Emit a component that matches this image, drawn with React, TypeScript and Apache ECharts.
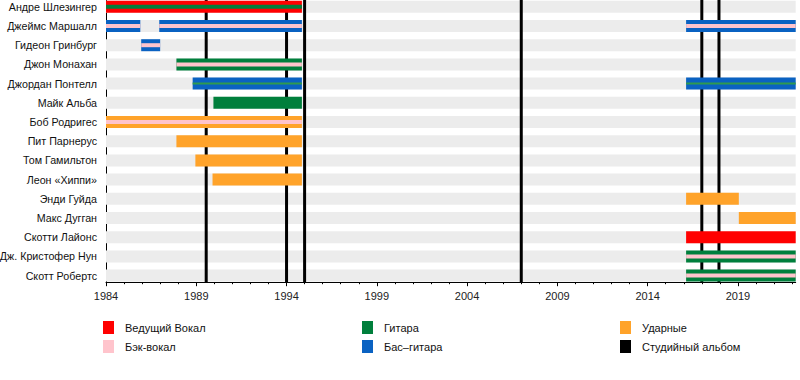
import React, { useEffect, useRef } from 'react';
import * as echarts from 'echarts';

const BASE_YEAR = 1984;
const END_YEAR = 2022.2;

const members = [
  'Андре Шлезингер',
  'Джеймс Маршалл',
  'Гидеон Гринбург',
  'Джон Монахан',
  'Джордан Понтелл',
  'Майк Альба',
  'Боб Родригес',
  'Пит Парнерус',
  'Том Гамильтон',
  'Леон «Хиппи»',
  'Энди Гуйда',
  'Макс Дугган',
  'Скотти Лайонс',
  'Дж. Кристофер Нун',
  'Скотт Робертс',
];

const roles = ['Ведущий Вокал', 'Бэк-вокал', 'Гитара', 'Бас–гитара', 'Ударные', 'Студийный альбом'];
const roleColors = ['#ff0000', '#ffc4cc', '#007f3c', '#0a62c2', '#ffa32a', '#000000'];

// [member, start, end, main role, secondary role (-1 none), thin secondary]
const stints: [number, number, number, number, number, number][] = [
  [0, 1984.0, 1994.85, 0, 2, 0],
  [1, 1984.0, 1985.9, 3, 1, 0],
  [1, 1986.95, 1994.85, 3, 1, 0],
  [1, 2016.13, 2022.2, 3, 1, 0],
  [2, 1985.95, 1987.0, 3, 1, 0],
  [3, 1987.9, 1994.85, 2, 1, 0],
  [4, 1988.8, 1994.85, 3, 2, 1],
  [4, 2016.13, 2022.2, 3, 2, 1],
  [5, 1989.95, 1994.85, 2, -1, 0],
  [6, 1984.0, 1994.85, 4, 1, 0],
  [7, 1987.9, 1994.85, 4, -1, 0],
  [8, 1988.95, 1994.85, 4, -1, 0],
  [9, 1989.9, 1994.85, 4, -1, 0],
  [10, 2016.13, 2019.05, 4, -1, 0],
  [11, 2019.05, 2022.2, 4, -1, 0],
  [12, 2016.13, 2022.2, 0, -1, 0],
  [13, 2016.13, 2022.2, 2, 1, 0],
  [14, 2016.13, 2022.2, 2, 1, 0],
];

const albums = [1989.55, 1994.0, 1995.0, 2007.0, 2017.0, 2017.95];

const majorTicks = [1984, 1989, 1994, 1999, 2004, 2009, 2014, 2019];
const minorTicks = Array.from({ length: 39 }, (_, i) => BASE_YEAR + i);

const FONT = '"Liberation Sans", Arial, sans-serif';

export default function App() {
  const ref = useRef<HTMLDivElement>(null);
  useEffect(() => {
    if (!ref.current) return;
    const chart = echarts.init(ref.current, undefined, { renderer: 'svg' });
    const BAR_H = 12;

    const legendGraphics: any[] = [];
    const colX = [103, 362, 620];
    const rowY = [321, 340];
    roles.forEach((r, i) => {
      const cx = colX[Math.floor(i / 2)];
      const cy = rowY[i % 2];
      legendGraphics.push({
        type: 'rect',
        left: cx,
        top: cy,
        shape: { width: 11, height: 13 },
        style: { fill: roleColors[i] },
      });
      legendGraphics.push({
        type: 'text',
        left: cx + 22,
        top: cy,
        style: {
          text: r,
          fill: '#111',
          font: `11px ${FONT}`,
          lineHeight: 13,
        },
      });
    });

    const option: any = {
      animation: false,
      grid: {
        left: 106,
        right: 4.3,
        top: -2.8,
        height: 288,
        containLabel: false,
        outerBoundsMode: 'none',
      },
      xAxis: [
        {
          type: 'value',
          min: 0,
          max: END_YEAR - BASE_YEAR,
          offset: -3,
          position: 'bottom',
          axisLine: { show: true, lineStyle: { color: '#000', width: 1 } },
          axisTick: {
            show: true,
            length: 4,
            lineStyle: { color: '#000' },
            customValues: majorTicks.map((y) => y - BASE_YEAR),
          },
          axisLabel: {
            show: true,
            color: '#222',
            fontSize: 11,
            fontFamily: FONT,
            margin: 8,
            customValues: majorTicks.map((y) => y - BASE_YEAR),
            formatter: (v: number) => String(Math.round(v) + BASE_YEAR),
          },
          splitLine: { show: false },
        },
        {
          type: 'value',
          min: 0,
          max: END_YEAR - BASE_YEAR,
          offset: -3,
          position: 'bottom',
          axisLine: { show: false },
          axisTick: {
            show: true,
            length: 2,
            lineStyle: { color: '#000' },
            customValues: minorTicks.map((y) => y - BASE_YEAR),
          },
          axisLabel: { show: false },
          splitLine: { show: false },
        },
      ],
      yAxis: {
        type: 'category',
        inverse: true,
        data: members,
        axisLine: { show: true, lineStyle: { color: '#000', width: 1 } },
        axisTick: { show: false },
        axisLabel: { color: '#111', fontSize: 10.7, fontFamily: FONT, margin: 9 },
        splitLine: { show: false },
      },
      series: [
        {
          type: 'custom',
          z: 1,
          silent: true,
          clip: false,
          encode: { x: 0, y: 1 },
          data: members.map((_, i) => [0, i]),
          renderItem: (params: any, api: any) => {
            const cs = params.coordSys;
            const p = api.coord([0, api.value(1)]);
            return {
              type: 'rect',
              shape: { x: cs.x, y: p[1] - BAR_H / 2, width: cs.width, height: BAR_H },
              style: { fill: '#ececec' },
            };
          },
        },
        {
          type: 'custom',
          z: 2,
          silent: true,
          clip: false,
          encode: { x: 0, y: 1 },
          data: albums.map((a) => [a - BASE_YEAR, 0]),
          renderItem: (params: any, api: any) => {
            const cs = params.coordSys;
            const x = api.coord([api.value(0), 0])[0];
            const top = Math.max(0, cs.y);
            const bottom = cs.y + cs.height - 3;
            return {
              type: 'line',
              shape: { x1: x, y1: top, x2: x, y2: bottom },
              style: { stroke: '#000', lineWidth: 3 },
            };
          },
        },
        {
          type: 'custom',
          z: 3,
          silent: true,
          clip: false,
          encode: { x: [0, 1], y: 2 },
          data: stints.map((s) => [s[1] - BASE_YEAR, s[2] - BASE_YEAR, s[0], s[3], s[4], s[5]]),
          renderItem: (params: any, api: any) => {
            const p0 = api.coord([api.value(0), api.value(2)]);
            const p1 = api.coord([api.value(1), api.value(2)]);
            const main = api.value(3);
            const sec = api.value(4);
            const thin = api.value(5);
            const children: any[] = [
              {
                type: 'rect',
                shape: { x: p0[0], y: p0[1] - BAR_H / 2, width: p1[0] - p0[0], height: BAR_H },
                style: { fill: roleColors[main] },
              },
            ];
            if (sec >= 0) {
              const h = thin ? 2 : 4;
              children.push({
                type: 'rect',
                shape: { x: p0[0], y: p0[1] - h / 2, width: p1[0] - p0[0], height: h },
                style: { fill: thin ? '#2f9a4e' : roleColors[sec] },
              });
            }
            return { type: 'group', children };
          },
        },
      ],
      graphic: legendGraphics,
    };
    chart.setOption(option);
    return () => chart.dispose();
  }, []);
  return (
    <div
      ref={ref}
      style={{ position: 'fixed', left: 0, top: 0, width: 800, height: 380, background: '#fff' }}
    />
  );
}
